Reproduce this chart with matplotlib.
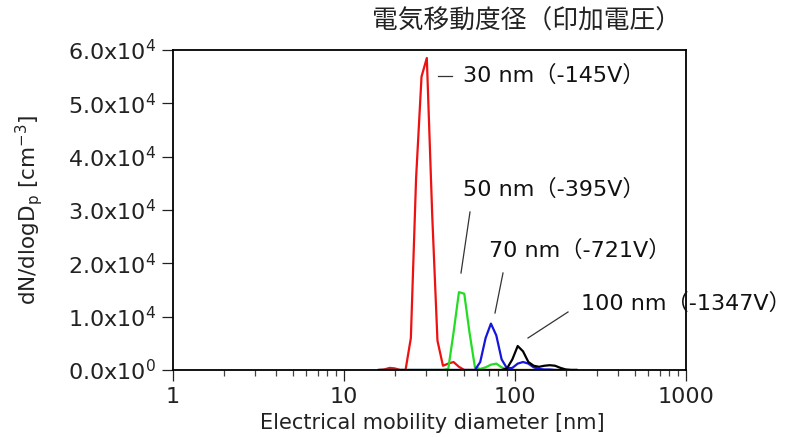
import matplotlib
matplotlib.use("Agg")
import matplotlib.pyplot as plt
from matplotlib.ticker import FixedLocator, LogLocator, NullFormatter

plt.rcParams['font.family'] = ['DejaVu Sans', 'Noto Sans CJK JP']
plt.rcParams['mathtext.fontset'] = 'dejavusans'

# Channel mid-point diameters (nm)
diameter = [16.0, 17.2, 18.5, 19.8, 21.3, 22.9, 24.6, 26.4, 28.4, 30.5,
            32.8, 35.2, 37.9, 40.7, 43.7, 47.0, 50.5, 54.2, 58.3, 62.6,
            67.3, 72.3, 77.7, 83.5, 89.8, 96.5, 103.7, 111.4, 119.7, 128.6,
            138.2, 148.6, 159.6, 171.5, 184.3, 198.1, 212.9, 228.8]

# dN/dlogDp for each classifier voltage
conc_30nm = [0, 100, 400, 300, 0, 0, 6000, 36000, 55000, 58500,
             29000, 5500, 800, 1200, 1500, 600, 0, 0, 0, 0,
             0, 0, 0, 0, 0, 0, 0, 0, 0, 0,
             0, 0, 0, 0, 0, 0, 0, 0]
conc_50nm = [0, 0, 0, 0, 0, 0, 0, 0, 0, 0,
             0, 0, 0, 200, 7000, 14600, 14300, 7000, 500, 200,
             500, 1000, 1200, 500, 100, 0, 0, 0, 0, 0,
             0, 0, 0, 0, 0, 0, 0, 0]
conc_70nm = [0, 0, 0, 0, 0, 0, 0, 0, 0, 0,
             0, 0, 0, 0, 0, 0, 0, 0, 0, 1500,
             6000, 8700, 6500, 2000, 300, 400, 1200, 1500, 1200, 500,
             200, 100, 100, 0, 0, 0, 0, 0]
conc_100nm = [0, 0, 0, 0, 0, 0, 0, 0, 0, 0,
              0, 0, 0, 0, 0, 0, 0, 0, 0, 0,
              0, 0, 0, 0, 300, 2000, 4500, 3500, 1500, 800,
              600, 800, 900, 800, 400, 100, 0, 0]

y_ticks = [0, 1e4, 2e4, 3e4, 4e4, 5e4, 6e4]
y_tick_labels = [r'0.0x10$^{0}$', r'1.0x10$^{4}$', r'2.0x10$^{4}$', r'3.0x10$^{4}$',
                 r'4.0x10$^{4}$', r'5.0x10$^{4}$', r'6.0x10$^{4}$']
x_ticks = [1, 10, 100, 1000]
x_tick_labels = ['1', '10', '100', '1000']

fig = plt.figure(figsize=(7.87, 4.37), dpi=100)
ax = fig.add_axes([0.2198, 0.1533, 0.6519, 0.7323])

ax.plot(diameter, conc_30nm, color='#ee1111', lw=1.6)
ax.plot(diameter, conc_50nm, color='#22dd22', lw=1.6)
ax.plot(diameter, conc_70nm, color='#1515dd', lw=1.6)
ax.plot(diameter, conc_100nm, color='black', lw=1.6)

ax.set_xscale('log')
ax.set_xlim(1, 1000)
ax.set_ylim(0, 6e4)
ax.xaxis.set_major_locator(FixedLocator(x_ticks))
ax.set_xticklabels(x_tick_labels)
ax.xaxis.set_minor_locator(LogLocator(base=10, subs=range(2, 10)))
ax.xaxis.set_minor_formatter(NullFormatter())
ax.set_yticks(y_ticks)
ax.set_yticklabels(y_tick_labels)

ax.tick_params(axis='both', which='major', direction='out', length=8, width=0.9,
               labelsize=16, pad=4, colors='#222222')
ax.tick_params(axis='x', which='minor', direction='out', length=4, width=0.9,
               colors='#444444')
for s in ax.spines.values():
    s.set_linewidth(1.3)

ax.set_xlabel('Electrical mobility diameter [nm]', fontsize=15, color='#222222')
ax.set_ylabel(r'dN/dlogD$_\mathregular{p}$ [cm$^{-3}$]', fontsize=15.5,
              color='#222222', va='center')
ax.xaxis.set_label_coords(0.505, -0.135)
ax.yaxis.set_label_coords(-0.28, 0.5)

# voltage labels with leader lines
lab = dict(fontsize=16, color='#111111', va='center', ha='left',
           transform=fig.transFigure, clip_on=False)
fig.text(463 / 787, 1 - 75 / 437, '30 nm（-145V）', **lab)
fig.text(463 / 787, 1 - 189 / 437, '50 nm（-395V）', **lab)
fig.text(489 / 787, 1 - 250 / 437, '70 nm（-721V）', **lab)
fig.text(581 / 787, 1 - 303 / 437, '100 nm（-1347V）', **lab)
fig.text(372 / 787, 1 - 22 / 437, '電気移動度径（印加電圧）', fontsize=18.5,
         color='#222222', va='center', ha='left')

leaders = [((438, 76), (452, 76)), ((470, 212), (461, 273)),
           ((503, 273), (495, 313)), ((568, 312), (528, 338))]
for (x0, y0), (x1, y1) in leaders:
    fig.add_artist(plt.Line2D([x0 / 787, x1 / 787], [1 - y0 / 437, 1 - y1 / 437],
                              color='#333333', lw=0.9, transform=fig.transFigure))

fig.savefig('out.png', dpi=100)
